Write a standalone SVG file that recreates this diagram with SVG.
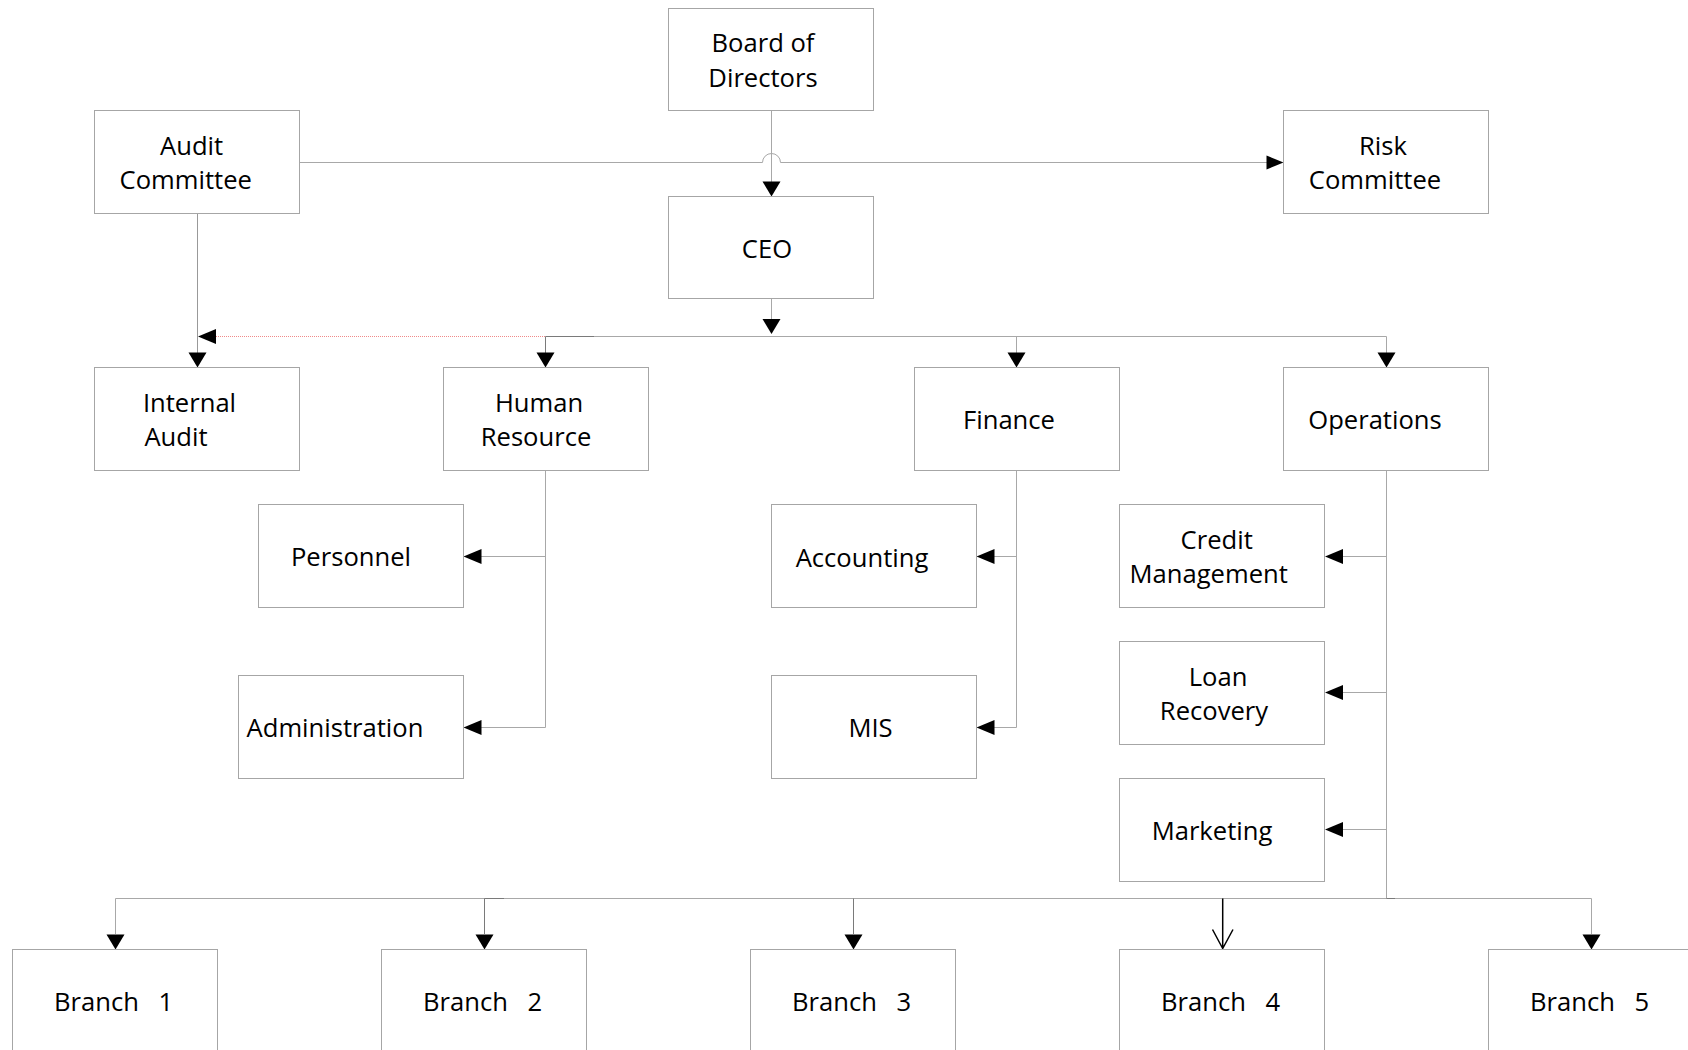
<svg xmlns="http://www.w3.org/2000/svg" xmlns:xlink="http://www.w3.org/1999/xlink" width="1688" height="1050" viewBox="0 0 1688 1050">
<style>
.box{fill:#ffffff;stroke:#a6a6a6;stroke-width:1}
.t{font-family:"Open Sans","Liberation Sans",sans-serif;font-size:25.6px;fill:#000000;text-anchor:middle}
.tl{font-family:"Open Sans","Liberation Sans",sans-serif;font-size:25.6px;fill:#000000}
.ln{fill:none;stroke:#a8a8a8;stroke-width:1}
.dk{fill:none;stroke:#7a7a7a;stroke-width:1}
.ah{fill:#000000;stroke:none}
</style>
<defs>
<path id="ad" d="M-9,-15 L9,-15 L0,0 Z"/>
<path id="al" d="M0,0 L18,-7.5 L18,7.5 Z"/>
<path id="ar" d="M0,0 L-17,-7 L-17,7 Z"/>
</defs>
<rect width="1688" height="1050" fill="#ffffff"/>

<g id="connectors">
  <path class="ln" d="M771.5,110.5 V182"/>
  <use href="#ad" class="ah" x="771.5" y="196.5"/>
  <path class="ln" d="M299.5,162.5 H762.5 A9,9 0 0 1 780.5,162.5 H1267"/>
  <use href="#ar" class="ah" x="1283.5" y="162.5"/>
  <path class="ln" d="M197.5,213.5 V353" style="stroke:#999999"/>
  <use href="#ad" class="ah" x="197.5" y="367.5"/>
  <path class="ln" d="M771.5,298.5 V320"/>
  <use href="#ad" class="ah" x="771.5" y="334"/>
  <path d="M216,336.5 H545.5" fill="none" stroke="#f08a8a" stroke-width="1" stroke-dasharray="1,1"/>
  <use href="#al" class="ah" x="198" y="336.5"/>
  <path class="dk" d="M545.5,336.5 H594"/>
  <path class="ln" d="M594,336.5 H1386.5 V353"/>
  <path class="dk" d="M545.5,336.5 V353"/>
  <use href="#ad" class="ah" x="545.5" y="367.5"/>
  <path class="ln" d="M1016.5,336.5 V353"/>
  <use href="#ad" class="ah" x="1016.5" y="367.5"/>
  <use href="#ad" class="ah" x="1386.5" y="367.5"/>
  <path class="ln" d="M545.5,470.5 V727.5 H481"/>
  <path class="ln" d="M545.5,556.5 H481"/>
  <use href="#al" class="ah" x="463.5" y="556.5"/>
  <use href="#al" class="ah" x="463.5" y="727.5"/>
  <path class="ln" d="M1016.5,470.5 V727.5 H994"/>
  <path class="ln" d="M1016.5,556.5 H994"/>
  <use href="#al" class="ah" x="976.5" y="556.5"/>
  <use href="#al" class="ah" x="976.5" y="727.5"/>
  <path class="ln" d="M1386.5,470.5 V898.5"/>
  <path class="ln" d="M1386.5,556.5 H1343"/>
  <path class="ln" d="M1386.5,692.5 H1343"/>
  <path class="ln" d="M1386.5,829.5 H1343"/>
  <use href="#al" class="ah" x="1325" y="556.5"/>
  <use href="#al" class="ah" x="1325" y="692.5"/>
  <use href="#al" class="ah" x="1325" y="829.5"/>
  <path class="ln" d="M115.5,934 V898.5 H1591.5 V934"/>
  <path class="dk" d="M484.5,898.5 H504"/>
  <path class="dk" d="M1386.5,898.5 H1395"/>
  <use href="#ad" class="ah" x="115.5" y="949.5"/>
  <path class="dk" d="M484.5,898.5 V934"/>
  <use href="#ad" class="ah" x="484.5" y="949.5"/>
  <path class="dk" d="M853.5,898.5 V934"/>
  <use href="#ad" class="ah" x="853.5" y="949.5"/>
  <path d="M1222.7,898.5 V948.5 M1212.5,929.5 L1222.7,948.5 L1233,929.5" fill="none" stroke="#000000" stroke-width="1.5"/>
  <use href="#ad" class="ah" x="1591.5" y="949.5"/>
</g>

<g id="board"><rect class="box" x="668.5" y="8.5" width="205" height="102"/><text class="t" x="763" y="52">Board of</text><text class="t" x="763" y="87">Directors</text></g>
<g id="ceo"><rect class="box" x="668.5" y="196.5" width="205" height="102"/><text class="t" x="767" y="258">CEO</text></g>
<g id="audit-committee"><rect class="box" x="94.5" y="110.5" width="205" height="103"/><text class="t" x="191.6" y="154.5">Audit</text><text class="t" x="185.7" y="189">Committee</text></g>
<g id="risk-committee"><rect class="box" x="1283.5" y="110.5" width="205" height="103"/><text class="t" x="1383" y="154.5">Risk</text><text class="t" x="1375" y="189">Committee</text></g>
<g id="internal-audit"><rect class="box" x="94.5" y="367.5" width="205" height="103"/><text class="t" x="189.5" y="412">Internal</text><text class="t" x="176" y="446">Audit</text></g>
<g id="human-resource"><rect class="box" x="443.5" y="367.5" width="205" height="103"/><text class="t" x="539" y="412">Human</text><text class="t" x="536" y="446">Resource</text></g>
<g id="finance"><rect class="box" x="914.5" y="367.5" width="205" height="103"/><text class="t" x="1009" y="429">Finance</text></g>
<g id="operations"><rect class="box" x="1283.5" y="367.5" width="205" height="103"/><text class="t" x="1375" y="429">Operations</text></g>
<g id="personnel"><rect class="box" x="258.5" y="504.5" width="205" height="103"/><text class="t" x="351" y="566">Personnel</text></g>
<g id="administration"><rect class="box" x="238.5" y="675.5" width="225" height="103"/><text class="t" x="335" y="737">Administration</text></g>
<g id="accounting"><rect class="box" x="771.5" y="504.5" width="205" height="103"/><text class="t" x="862" y="567">Accounting</text></g>
<g id="mis"><rect class="box" x="771.5" y="675.5" width="205" height="103"/><text class="t" x="870.5" y="737">MIS</text></g>
<g id="credit-management"><rect class="box" x="1119.5" y="504.5" width="205" height="103"/><text class="t" x="1216.7" y="549">Credit</text><text class="t" x="1208.7" y="582.5">Management</text></g>
<g id="loan-recovery"><rect class="box" x="1119.5" y="641.5" width="205" height="103"/><text class="t" x="1218" y="686">Loan</text><text class="t" x="1214" y="720">Recovery</text></g>
<g id="marketing"><rect class="box" x="1119.5" y="778.5" width="205" height="103"/><text class="t" x="1212" y="840">Marketing</text></g>
<g id="branch-1"><rect class="box" x="12.5" y="949.5" width="205" height="130"/><text class="tl" x="54" y="1010.5">Branch <tspan dx="13">1</tspan></text></g>
<g id="branch-2"><rect class="box" x="381.5" y="949.5" width="205" height="130"/><text class="tl" x="423" y="1010.5">Branch <tspan dx="13">2</tspan></text></g>
<g id="branch-3"><rect class="box" x="750.5" y="949.5" width="205" height="130"/><text class="tl" x="792" y="1010.5">Branch <tspan dx="13">3</tspan></text></g>
<g id="branch-4"><rect class="box" x="1119.5" y="949.5" width="205" height="130"/><text class="tl" x="1161" y="1010.5">Branch <tspan dx="13">4</tspan></text></g>
<g id="branch-5"><rect class="box" x="1488.5" y="949.5" width="205" height="130"/><text class="tl" x="1530" y="1010.5">Branch <tspan dx="13">5</tspan></text></g>
</svg>
